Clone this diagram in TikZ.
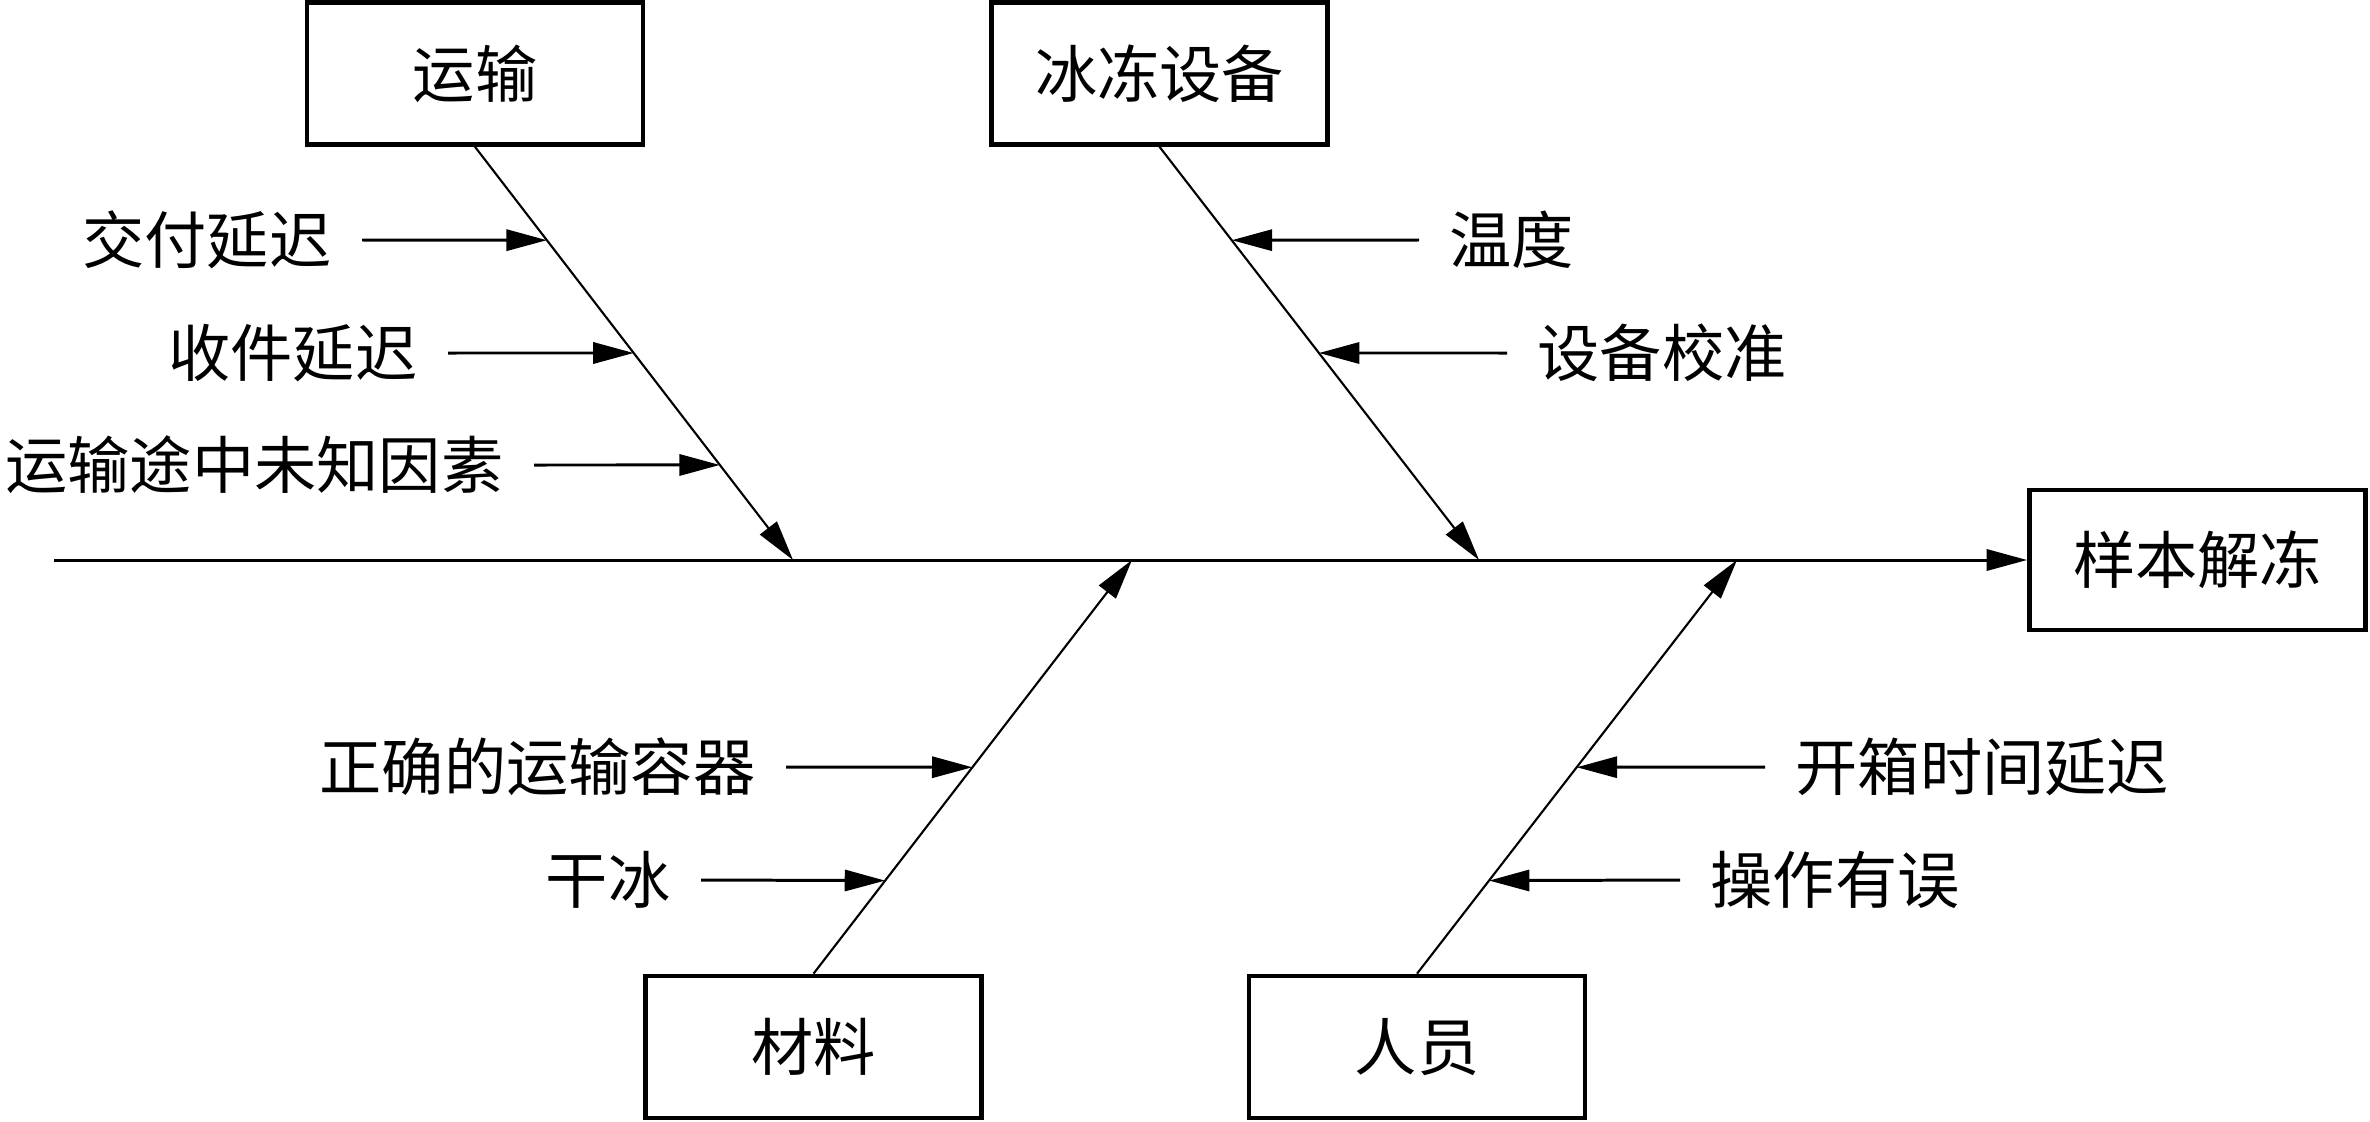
\documentclass[tikz,border=0pt]{standalone}
\usepackage{fontspec}
\setmainfont{Noto Sans CJK SC}
\usetikzlibrary{arrows.meta}

\tikzset{
	box/.style={draw, line width=1.3pt, minimum width=3.36cm, minimum height=1.42cm, inner sep=0pt, font=\fontsize{17.7}{20}\selectfont},
	cause/.style={inner xsep=0.3cm, inner ysep=0pt, font=\fontsize{17.7}{20}\selectfont},
	spine/.style={line width=0.85pt, -{Triangle[length=11.5pt,width=6pt]}},
	bone/.style={line width=0.6pt, -{Triangle[length=11.5pt,width=6pt]}},
	twig/.style={line width=0.85pt, -{Triangle[length=11.5pt,width=6pt]}},
}

\begin{document}
\begin{tikzpicture}[x=0.01cm, y=-0.01cm]
	%%%%% START %%%%%
	\useasboundingbox (0, 0) rectangle (2370, 1121);
	
	\node[box] (yunshu) at (475, 73.5) {运输};
	\node[box] (bingdong) at (1159.5, 73.5) {冰冻设备};
	\node[box] (cailiao) at (813.5, 1047) {材料};
	\node[box] (renyuan) at (1417, 1047) {人员};
	\node[box, minimum height=1.40cm] (jiedong) at (2197.5, 560) {样本解冻};
	
	% spine
	\coordinate (tail) at (54, 560);
	\draw[spine] (tail) -- (jiedong.west);
	
	% main bones
	\coordinate (h1) at (793, 560);
	\coordinate (h2) at (1479, 560);
	\coordinate (h3) at (1132, 560);
	\coordinate (h4) at (1737, 560);
	\draw[bone] (yunshu.south) -- (h1);
	\draw[bone] (bingdong.south) -- (h2);
	\draw[bone] (cailiao.north) -- (h3);
	\draw[bone] (renyuan.north) -- (h4);
	
	\path (yunshu.south) -- (h1) coordinate[pos=0.226] (y1) coordinate[pos=0.499] (y2) coordinate[pos=0.770] (y3);
	\path (bingdong.south) -- (h2) coordinate[pos=0.226] (b1) coordinate[pos=0.499] (b2);
	\path (cailiao.north) -- (h3) coordinate[pos=0.225] (c1) coordinate[pos=0.499] (c2);
	\path (renyuan.north) -- (h4) coordinate[pos=0.225] (r1) coordinate[pos=0.499] (r2);
	
	% causes
	\node[cause, anchor=east] (jiaofu) at (362, 240) {交付延迟};
	\node[cause, anchor=east] (shoujian) at (448, 353) {收件延迟};
	\node[cause, anchor=east] (weizhi) at (534, 465) {运输途中未知因素};
	\draw[twig] (jiaofu.east) -- (y1);
	\draw[twig] (shoujian.east) -- (y2);
	\draw[twig] (weizhi.east) -- (y3);
	
	\node[cause, anchor=west] (wendu) at (1419, 240) {温度};
	\node[cause, anchor=west] (jiaozhun) at (1507, 353) {设备校准};
	\draw[twig] (wendu.west) -- (b1);
	\draw[twig] (jiaozhun.west) -- (b2);
	
	\node[cause, anchor=east] (rongqi) at (786, 767) {正确的运输容器};
	\node[cause, anchor=east] (ganbing) at (701, 880) {干冰};
	\draw[twig] (rongqi.east) -- (c2);
	\draw[twig] (ganbing.east) -- (c1);
	
	\node[cause, anchor=west] (kaixiang) at (1765, 767) {开箱时间延迟};
	\node[cause, anchor=west] (caozuo) at (1680, 880) {操作有误};
	\draw[twig] (kaixiang.west) -- (r2);
	\draw[twig] (caozuo.west) -- (r1);
	
	%%%%% END %%%%%
\end{tikzpicture}
\end{document}
